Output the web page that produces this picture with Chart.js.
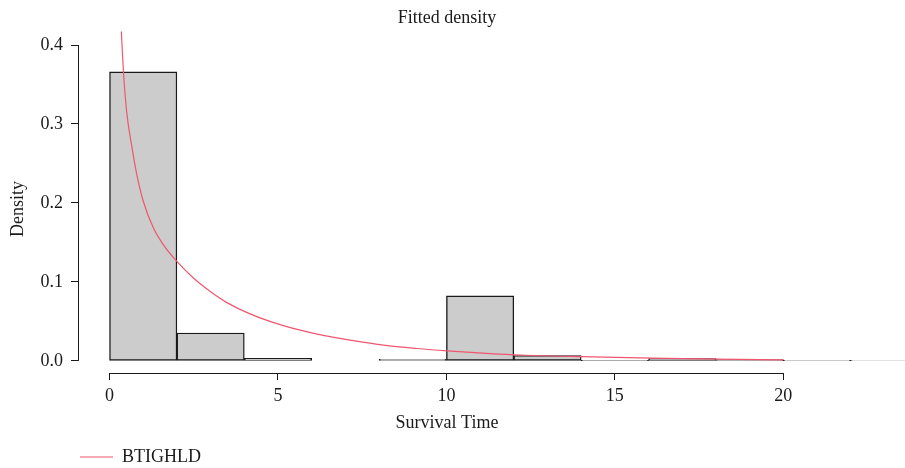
<!DOCTYPE html>
<html>
<head>
<meta charset="utf-8">
<script src="https://cdn.jsdelivr.net/npm/chart.js@4/dist/chart.umd.min.js"></script>
<style>
  html, body { margin: 0; padding: 0; background: #ffffff; }
  #wrap { width: 905px; height: 468px; }
</style>
</head>
<body>
<div id="wrap"><canvas id="c" width="905" height="468"></canvas></div>
<script>
// Histogram bins (width 2): bin centers and densities
const binCenters = [1, 3, 5, 7, 9, 11, 13, 15, 17, 19, 21, 23];
const binDensity = [0.366, 0.0353, 0.0034, 0, 0.002, 0.0824, 0.0068, 0.0004, 0.003, 0.0017, 0.0003, 0.0006];

// Fitted BTIGHLD density curve
const curveX = [0.35, 0.41, 0.51, 0.66, 0.81, 1.00, 1.30, 1.60, 2.00, 2.49, 2.99, 3.50, 4.17, 5.16, 6.16, 7.14, 8.13, 9.13, 10.02, 11.3, 12.2, 14.0, 16.1, 18.0, 20.0];
const curveY = [0.417, 0.368, 0.315, 0.272, 0.236, 0.2025, 0.1685, 0.147, 0.126, 0.105, 0.088, 0.0735, 0.0595, 0.0446, 0.034, 0.0263, 0.020, 0.0157, 0.0127, 0.0093, 0.0075, 0.0054, 0.0035, 0.0022, 0.0013];

// Tick labels
const xTicks = [0, 5, 10, 15, 20];
const yTicks = [0.0, 0.1, 0.2, 0.3, 0.4];

const titleText = 'Fitted density';
const xTitle = 'Survival Time';
const yTitle = 'Density';
const seriesName = 'BTIGHLD';

const FONT = "'Liberation Serif', 'Times New Roman', serif";
const INK = '#1a1a1a';
const RED = '#f0566f';

const rAxisLines = {
  id: 'rAxisLines',
  afterDatasetsDraw(chart) {
    const {ctx, chartArea, scales} = chart;
    const x = scales.x, y = scales.y;
    ctx.save();
    ctx.strokeStyle = INK;
    ctx.lineWidth = 1;
    ctx.beginPath();
    const ax = Math.round(chartArea.left) + 0.5;
    ctx.moveTo(ax, y.getPixelForValue(yTicks[0]));
    ctx.lineTo(ax, y.getPixelForValue(yTicks[yTicks.length - 1]));
    const ay = Math.round(chartArea.bottom) + 0.5;
    ctx.moveTo(x.getPixelForValue(xTicks[0]), ay);
    ctx.lineTo(x.getPixelForValue(xTicks[xTicks.length - 1]), ay);
    ctx.stroke();
    ctx.restore();
  }
};

new Chart(document.getElementById('c'), {
  type: 'bar',
  data: {
    datasets: [
      {
        type: 'bar',
        label: 'hist',
        data: binCenters.map((c, i) => ({x: c, y: binDensity[i]})),
        backgroundColor: '#cbcccb',
        borderColor: INK,
        borderWidth: 1.4,
        borderSkipped: false,
        barPercentage: 1,
        categoryPercentage: 1,
        clip: false,
        order: 2
      },
      {
        type: 'line',
        label: seriesName,
        data: curveX.map((v, i) => ({x: v, y: curveY[i]})),
        borderColor: RED,
        backgroundColor: RED,
        borderWidth: 1.2,
        pointRadius: 0,
        cubicInterpolationMode: 'monotone',
        fill: false,
        clip: false,
        order: 1
      }
    ]
  },
  options: {
    responsive: false,
    animation: false,
    devicePixelRatio: 1,
    layout: { padding: { left: 0, right: 89, top: 0, bottom: -8 } },
    plugins: {
      title: {
        display: true,
        text: titleText,
        fullSize: false,
        color: INK,
        font: { family: FONT, size: 18, weight: 'normal' },
        padding: { top: 7, bottom: 16.4 }
      },
      legend: {
        display: true,
        position: 'bottom',
        align: 'start',
        fullSize: false,
        labels: {
          filter: (item) => item.datasetIndex === 1,
          boxWidth: 33,
          boxHeight: 0,
          padding: 2,
          color: INK,
          font: { family: FONT, size: 18 }
        }
      },
      tooltip: { enabled: false }
    },
    scales: {
      x: {
        type: 'linear',
        min: -0.936,
        max: 20.97,
        offset: false,
        afterBuildTicks: (s) => { s.ticks = xTicks.map(v => ({value: v})); },
        afterFit: (s) => { s.height = 73; },
        border: { display: false },
        grid: { display: true, drawOnChartArea: false, drawTicks: true, tickLength: 7, color: INK, offset: false },
        ticks: { color: INK, font: { family: FONT, size: 18 }, padding: 5, maxRotation: 0, autoSkip: false },
        title: { display: true, text: xTitle, color: INK, font: { family: FONT, size: 18 }, padding: { top: 0, bottom: 12.2 } }
      },
      y: {
        type: 'linear',
        min: -0.0153,
        max: 0.4,
        afterBuildTicks: (s) => { s.ticks = yTicks.map(v => ({value: v})); },
        afterFit: (s) => { s.width = 78; },
        border: { display: false },
        grid: { display: true, drawOnChartArea: false, drawTicks: true, tickLength: 7, color: INK },
        ticks: { color: INK, font: { family: FONT, size: 18 }, padding: 8, callback: (v) => Number(v).toFixed(1) },
        title: { display: true, text: yTitle, color: INK, font: { family: FONT, size: 18 }, padding: { top: 7.2, bottom: 0 } }
      }
    }
  },
  plugins: [rAxisLines]
});
</script>
</body>
</html>
